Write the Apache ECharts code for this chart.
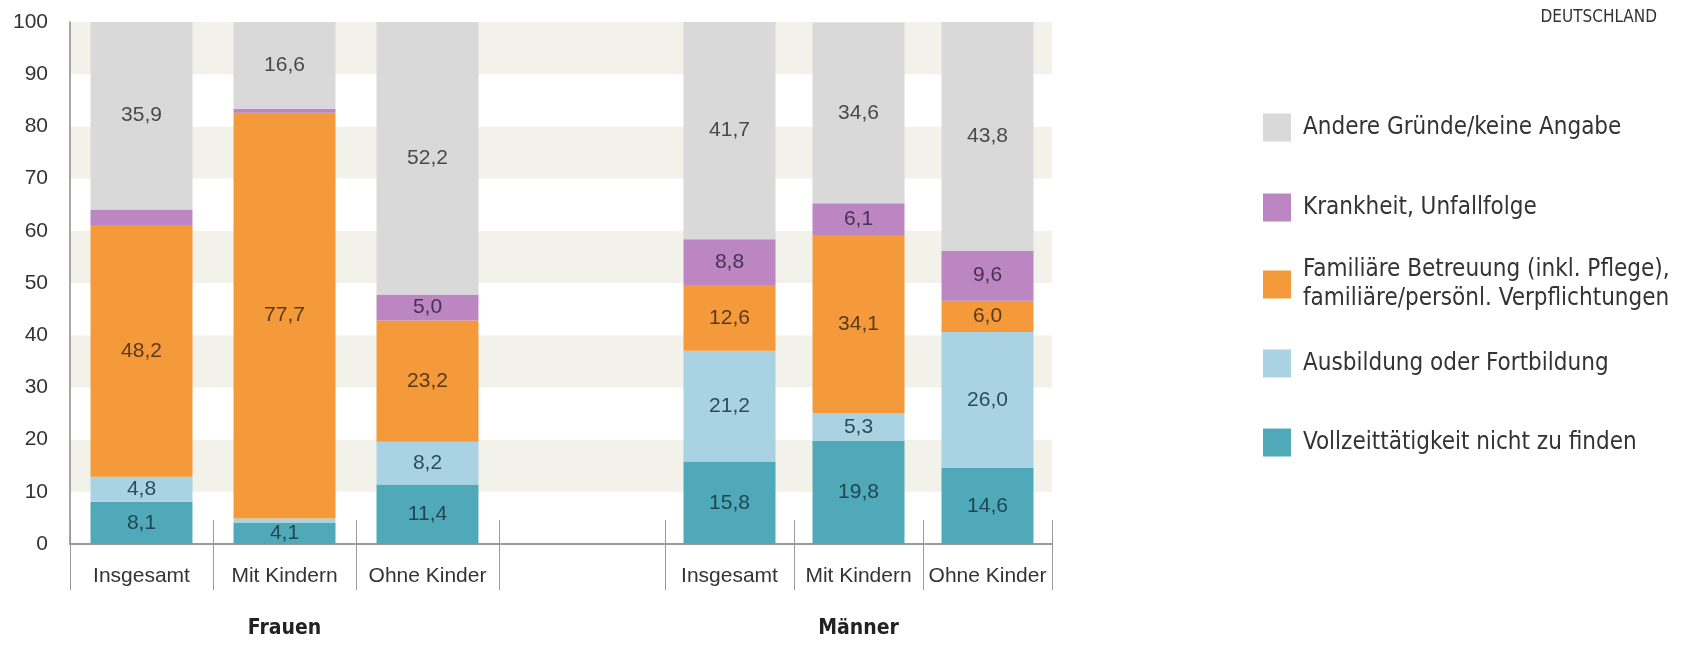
<!DOCTYPE html>
<html>
<head>
<meta charset="utf-8">
<script src="https://cdn.jsdelivr.net/npm/echarts@6/dist/echarts.min.js"></script>
<style>
  html, body { margin: 0; padding: 0; background: #ffffff; }
  #chart { width: 1693px; height: 645px; }
</style>
</head>
<body>
<div id="chart"></div>
<script>
// Gruppen und Unterkategorien
const groups = ['Frauen', 'Männer'];
const subCategories = ['Insgesamt', 'Mit Kindern', 'Ohne Kinder'];

// Gründe (Stapelreihenfolge von unten nach oben)
const reasons = [
  'Vollzeittätigkeit nicht zu finden',
  'Ausbildung oder Fortbildung',
  'Familiäre Betreuung (inkl. Pflege), familiäre/persönl. Verpflichtungen',
  'Krankheit, Unfallfolge',
  'Andere Gründe/keine Angabe'
];

// Anteile in Prozent – Frauen
const vollzeitFrauen   = [8.1, 4.1, 11.4];
const ausbildungFrauen = [4.8, 0.8, 8.2];
const familieFrauen    = [48.2, 77.7, 23.2];
const krankheitFrauen  = [3.0, 0.8, 5.0];
const andereFrauen     = [35.9, 16.6, 52.2];

// Anteile in Prozent – Männer
const vollzeitMaenner   = [15.8, 19.8, 14.6];
const ausbildungMaenner = [21.2, 5.3, 26.0];
const familieMaenner    = [12.6, 34.1, 6.0];
const krankheitMaenner  = [8.8, 6.1, 9.6];
const andereMaenner     = [41.7, 34.6, 43.8];

// Segmente ohne Wertbeschriftung: [Gruppe, Grund-Index, Kategorie-Index]
const unlabeled = [
  ['Frauen', 3, 0],
  ['Frauen', 1, 1],
  ['Frauen', 3, 1]
];

// y-Achse
const yMin = 0, yMax = 100, yInterval = 10;

const colors = ['#50a9b8', '#a9d3e3', '#f49a3b', '#bb86c1', '#d9d9d9'];
const labelColors = ['#1f4652', '#2c4c5c', '#5a3a1b', '#4a3152', '#4a4a4a'];

const narrowFont = "'Liberation Sans Narrow', 'DejaVu Sans Condensed', 'Arial Narrow', sans-serif";
const regularFont = "'Liberation Sans', Arial, sans-serif";

const valuesByGroup = {
  'Frauen': [vollzeitFrauen, ausbildungFrauen, familieFrauen, krankheitFrauen, andereFrauen],
  'Männer': [vollzeitMaenner, ausbildungMaenner, familieMaenner, krankheitMaenner, andereMaenner]
};

const fmt = v => v.toFixed(1).replace('.', ',');
const isUnlabeled = (g, r, c) => unlabeled.some(u => u[0] === g && u[1] === r && u[2] === c);

const series = [];
groups.forEach((g, gi) => {
  reasons.forEach((r, ri) => {
    series.push({
      name: r,
      type: 'bar',
      stack: 'stack-' + gi,
      xAxisIndex: gi === 0 ? 1 : 3,
      yAxisIndex: gi + 1,
      barCategoryGap: '28.7%',
      itemStyle: { color: colors[ri] },
      label: {
        show: true,
        position: 'inside',
        fontFamily: regularFont,
        fontSize: 21,
        color: labelColors[ri],
        formatter: p => fmt(p.value)
      },
      data: valuesByGroup[g][ri].map((v, ci) =>
        isUnlabeled(g, ri, ci) ? { value: v, label: { show: false } } : v)
    });
  });
});

const tickColor = '#9a9a9a';

function catAxes(gridIndex, groupName) {
  return [
    {
      type: 'category', gridIndex, position: 'bottom',
      data: subCategories,
      axisLine: { show: false },
      axisTick: { show: true, length: 46, lineStyle: { color: tickColor, width: 1 } },
      axisLabel: { interval: 0, margin: 22, fontFamily: regularFont, fontSize: 21, color: '#333333' },
      name: groupName,
      nameLocation: 'middle',
      nameGap: 74,
      nameTextStyle: { fontFamily: narrowFont, fontWeight: 'bold', fontSize: 21, color: '#222222' }
    },
    {
      type: 'category', gridIndex, position: 'bottom',
      data: subCategories,
      axisLine: { show: false },
      axisTick: { show: true, inside: true, length: 24, lineStyle: { color: tickColor, width: 1 } },
      axisLabel: { show: false }
    }
  ];
}

// Legende: oberster Grund zuerst
const legendTops = [423, 344, 242, 188, 108];
const legends = reasons.map((r, i) => ({
  data: [r],
  left: 1258,
  top: legendTops[i],
  orient: 'vertical',
  icon: 'rect',
  itemWidth: 28,
  itemHeight: 28,
  selectedMode: false,
  formatter: name => name.replace('), ', '),\n'),
  textStyle: {
    fontFamily: narrowFont,
    fontSize: 24,
    lineHeight: 29,
    color: '#333333',
    padding: i === 2 ? [17, 0, 0, 7] : [0, 0, 0, 7]
  }
}));

const option = {
  animation: false,
  backgroundColor: '#ffffff',
  title: {
    text: 'DEUTSCHLAND',
    right: 31,
    top: 4,
    textStyle: { fontFamily: narrowFont, fontWeight: 'normal', fontSize: 17, color: '#333333' }
  },
  legend: legends,
  grid: [
    { left: 70, top: 22, width: 982, height: 522 },
    { left: 70, top: 22, width: 429, height: 522 },
    { left: 665, top: 22, width: 387, height: 522 }
  ],
  xAxis: [
    {
      type: 'value', gridIndex: 0, min: 0, max: 1,
      axisLine: { show: true, lineStyle: { color: '#7a7a7a', width: 1.5 } },
      axisTick: { show: false }, axisLabel: { show: false }, splitLine: { show: false }
    },
    ...catAxes(1, groups[0]),
    ...catAxes(2, groups[1])
  ],
  yAxis: [
    {
      type: 'value', gridIndex: 0, min: yMin, max: yMax, interval: yInterval,
      axisLine: { show: true, lineStyle: { color: '#8a8a8a', width: 1.5 } },
      axisTick: { show: false },
      axisLabel: { margin: 22, fontFamily: regularFont, fontSize: 21, color: '#333333' },
      splitLine: { show: false },
      splitArea: { show: true, areaStyle: { color: ['#ffffff', '#f2f2ea'] } }
    },
    { type: 'value', gridIndex: 1, min: yMin, max: yMax, show: false },
    { type: 'value', gridIndex: 2, min: yMin, max: yMax, show: false }
  ],
  series
};

const chart = echarts.init(document.getElementById('chart'), null, { renderer: 'canvas' });
chart.setOption(option);
</script>
</body>
</html>
